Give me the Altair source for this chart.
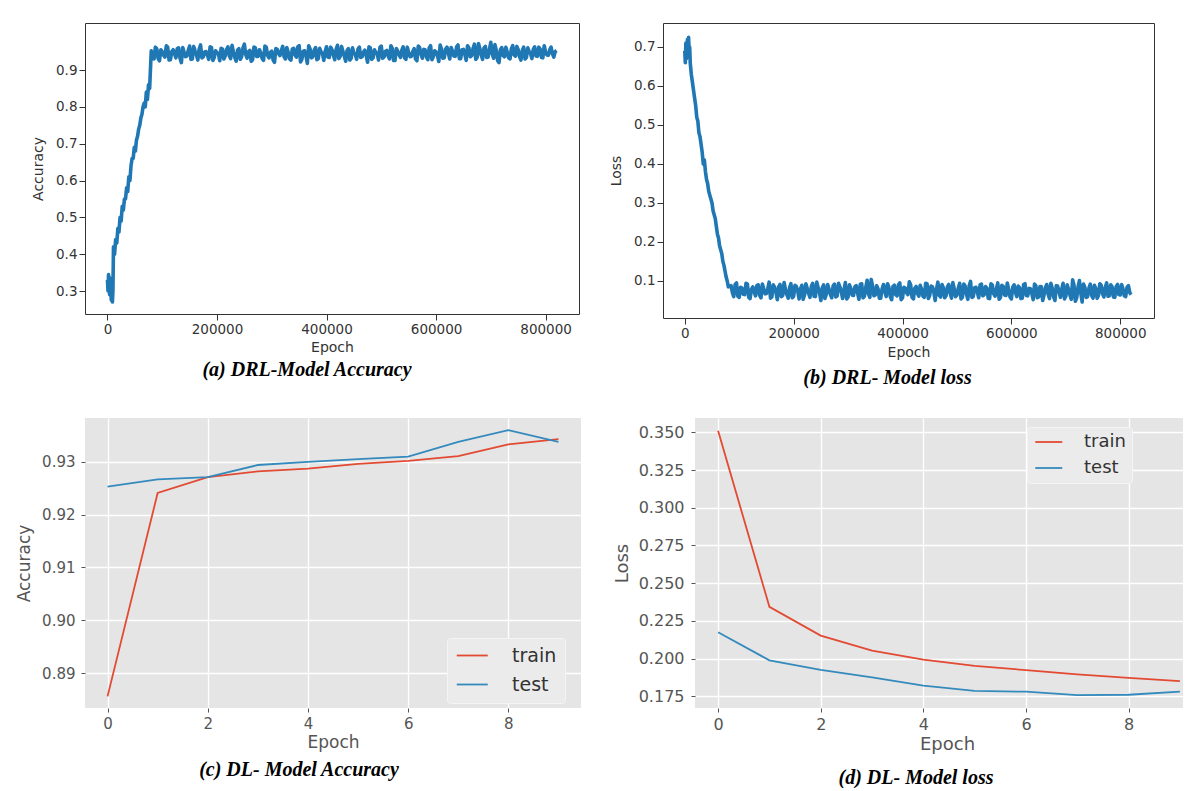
import altair as alt
import pandas as pd

# ---------------- DRL accuracy (panel a) ----------------
acc_early_epochs = [0, 1000, 2000, 3000, 4000, 5000, 6000, 7000, 8000, 9000, 10000,
                    11000, 13000, 15000, 17000, 19000, 21000, 23000, 25000, 27000, 29000,
                    31000, 33000, 35000, 37000, 39000, 41000, 43000, 45000, 47000, 49000,
                    51000, 53000, 55000, 57000, 59000, 61000, 63000, 65000, 67000, 69000,
                    71000, 73000, 75000, 77000]
acc_early_values = [0.33, 0.30, 0.345, 0.31, 0.29, 0.335, 0.30, 0.275, 0.32, 0.27, 0.30,
                    0.42, 0.40, 0.44, 0.43, 0.47, 0.46, 0.50, 0.49, 0.53, 0.52,
                    0.55, 0.55, 0.58, 0.57, 0.61, 0.60, 0.64, 0.66, 0.66, 0.69,
                    0.68, 0.71, 0.72, 0.74, 0.75, 0.77, 0.78, 0.80, 0.81, 0.80,
                    0.84, 0.82, 0.86, 0.85]
acc_plateau_epochs = list(range(80000, 820001, 5000))
acc_plateau_values = [
    0.952, 0.930, 0.958, 0.925, 0.950, 0.935, 0.962, 0.928, 0.955, 0.933,
    0.960, 0.920, 0.948, 0.938, 0.965, 0.930, 0.952, 0.927, 0.968, 0.936,
    0.950, 0.929, 0.961, 0.934, 0.947, 0.925, 0.957, 0.938, 0.963, 0.931,
    0.949, 0.924, 0.958, 0.936, 0.970, 0.932, 0.953, 0.928, 0.960, 0.937,
    0.946, 0.926, 0.962, 0.933, 0.951, 0.921, 0.956, 0.939, 0.964, 0.930,
    0.948, 0.927, 0.959, 0.935, 0.966, 0.929, 0.952, 0.918, 0.957, 0.936,
    0.961, 0.931, 0.949, 0.926, 0.963, 0.934, 0.955, 0.928, 0.967, 0.937,
    0.950, 0.924, 0.958, 0.932, 0.946, 0.929, 0.962, 0.936, 0.954, 0.921,
    0.960, 0.933, 0.948, 0.927, 0.965, 0.935, 0.953, 0.930, 0.959, 0.926,
    0.951, 0.934, 0.963, 0.929, 0.947, 0.937, 0.958, 0.925, 0.961, 0.932,
    0.955, 0.928, 0.966, 0.936, 0.949, 0.923, 0.957, 0.933, 0.962, 0.930,
    0.952, 0.937, 0.968, 0.931, 0.956, 0.926, 0.960, 0.939, 0.970, 0.934,
    0.958, 0.929, 0.964, 0.935, 0.975, 0.932, 0.953, 0.920, 0.961, 0.936,
    0.949, 0.930, 0.966, 0.938, 0.955, 0.927, 0.962, 0.934, 0.950, 0.931,
    0.963, 0.937, 0.957, 0.933, 0.948, 0.940, 0.962, 0.935, 0.953]
acc_mid_epochs = list(range(82500, 817501, 5000))
acc_mid_values = [
    0.938, 0.962, 0.931, 0.955, 0.940, 0.966, 0.927, 0.950, 0.944, 0.958,
    0.932, 0.961, 0.936, 0.953, 0.929, 0.964, 0.941, 0.957, 0.933, 0.949,
    0.940, 0.963, 0.926, 0.952, 0.945, 0.959, 0.930, 0.956, 0.938, 0.967,
    0.935, 0.954, 0.929, 0.960, 0.942, 0.950, 0.924, 0.962, 0.937, 0.955,
    0.931, 0.965, 0.939, 0.948, 0.927, 0.958, 0.944, 0.953, 0.936, 0.961,
    0.930, 0.957, 0.941, 0.963, 0.922, 0.951, 0.938, 0.966, 0.933, 0.954,
    0.928, 0.959, 0.945, 0.950, 0.935, 0.962, 0.940, 0.956, 0.931, 0.964,
    0.937, 0.953, 0.927, 0.960, 0.942, 0.957, 0.934, 0.949, 0.939, 0.963,
    0.929, 0.955, 0.944, 0.961, 0.932, 0.951, 0.938, 0.966, 0.926, 0.958,
    0.941, 0.954, 0.933, 0.962, 0.936, 0.950, 0.930, 0.965, 0.943, 0.956,
    0.935, 0.960, 0.928, 0.952, 0.940, 0.968, 0.932, 0.957, 0.945, 0.961,
    0.938, 0.963, 0.931, 0.955, 0.943, 0.966, 0.936, 0.958, 0.929, 0.972,
    0.940, 0.960, 0.934, 0.957, 0.944, 0.969, 0.925, 0.955, 0.939, 0.962,
    0.933, 0.958, 0.941, 0.964, 0.936, 0.953, 0.930, 0.960, 0.945, 0.956,
    0.938, 0.962, 0.934, 0.966, 0.941, 0.955, 0.944, 0.950]

# ---------------- DRL loss (panel b) ----------------
loss_early_epochs = [0, 1000, 2000, 3000, 4000, 5000, 6000, 7000, 8000, 9000, 10000,
                     12000, 14000, 16000, 18000, 20000, 22000, 24000, 26000, 28000, 30000,
                     32000, 34000, 36000, 38000, 40000, 42000, 44000, 46000, 48000, 50000,
                     52000, 54000, 56000, 58000, 60000, 62000, 64000, 66000, 68000, 70000,
                     72000, 74000, 76000, 78000, 80000]
loss_early_values = [0.69, 0.66, 0.71, 0.67, 0.70, 0.72, 0.68, 0.725, 0.69, 0.70, 0.66,
                     0.63, 0.61, 0.59, 0.57, 0.55, 0.52, 0.51, 0.48, 0.47, 0.45,
                     0.43, 0.40, 0.41, 0.38, 0.36, 0.35, 0.33, 0.32, 0.31, 0.30,
                     0.28, 0.27, 0.26, 0.24, 0.22, 0.21, 0.19, 0.18, 0.17, 0.15,
                     0.14, 0.125, 0.11, 0.10, 0.085]
loss_plateau_epochs = list(range(85000, 820001, 5000))
loss_plateau_values = [
    0.088, 0.060, 0.095, 0.058, 0.082, 0.065, 0.092, 0.055, 0.085, 0.062,
    0.090, 0.057, 0.080, 0.068, 0.097, 0.059, 0.084, 0.052, 0.091, 0.063,
    0.078, 0.056, 0.093, 0.061, 0.086, 0.054, 0.089, 0.064, 0.081, 0.058,
    0.094, 0.060, 0.083, 0.050, 0.090, 0.066, 0.079, 0.057, 0.092, 0.062,
    0.085, 0.055, 0.096, 0.059, 0.081, 0.063, 0.088, 0.053, 0.093, 0.061,
    0.102, 0.058, 0.087, 0.064, 0.080, 0.056, 0.091, 0.060, 0.084, 0.052,
    0.089, 0.062, 0.095, 0.057, 0.082, 0.065, 0.090, 0.054, 0.086, 0.061,
    0.079, 0.058, 0.093, 0.063, 0.085, 0.050, 0.097, 0.059, 0.083, 0.062,
    0.091, 0.056, 0.080, 0.064, 0.094, 0.058, 0.087, 0.053, 0.099, 0.060,
    0.084, 0.057, 0.092, 0.065, 0.081, 0.055, 0.089, 0.061, 0.095, 0.058,
    0.086, 0.063, 0.078, 0.054, 0.090, 0.060, 0.083, 0.056, 0.093, 0.062,
    0.080, 0.052, 0.088, 0.059, 0.085, 0.064, 0.091, 0.055, 0.082, 0.050,
    0.087, 0.058, 0.094, 0.061, 0.079, 0.053, 0.090, 0.057, 0.101, 0.046,
    0.084, 0.060, 0.092, 0.056, 0.081, 0.063, 0.089, 0.059, 0.095, 0.062,
    0.085, 0.058, 0.091, 0.064, 0.080, 0.060, 0.088, 0.065]
loss_mid_epochs = list(range(87500, 817501, 5000))
loss_mid_values = [
    0.070, 0.091, 0.061, 0.084, 0.066, 0.094, 0.058, 0.079, 0.072, 0.088,
    0.063, 0.092, 0.067, 0.081, 0.056, 0.090, 0.071, 0.085, 0.060, 0.096,
    0.065, 0.083, 0.057, 0.089, 0.074, 0.080, 0.053, 0.093, 0.068, 0.086,
    0.061, 0.097, 0.070, 0.082, 0.055, 0.091, 0.066, 0.087, 0.059, 0.094,
    0.072, 0.078, 0.054, 0.090, 0.064, 0.085, 0.069, 0.092, 0.057, 0.083,
    0.067, 0.104, 0.062, 0.088, 0.056, 0.080, 0.073, 0.093, 0.060, 0.086,
    0.065, 0.090, 0.052, 0.084, 0.070, 0.098, 0.058, 0.081, 0.068, 0.089,
    0.061, 0.094, 0.055, 0.087, 0.072, 0.079, 0.063, 0.091, 0.057, 0.085,
    0.069, 0.096, 0.060, 0.082, 0.054, 0.092, 0.066, 0.088, 0.058, 0.083,
    0.071, 0.090, 0.062, 0.086, 0.056, 0.093, 0.067, 0.080, 0.053, 0.089,
    0.064, 0.095, 0.059, 0.084, 0.070, 0.087, 0.055, 0.091, 0.063, 0.081,
    0.068, 0.092, 0.057, 0.086, 0.050, 0.083, 0.066, 0.094, 0.060, 0.088,
    0.072, 0.079, 0.054, 0.090, 0.064, 0.103, 0.048, 0.085, 0.069, 0.092,
    0.058, 0.082, 0.063, 0.089, 0.056, 0.093, 0.067, 0.084, 0.061, 0.090,
    0.059, 0.086, 0.065, 0.091, 0.062, 0.084, 0.070]

# ---------------- DL model (panels c, d) ----------------
dl_epochs = [0, 1, 2, 3, 4, 5, 6, 7, 8, 9]
dl_acc_train = [0.8856, 0.9241, 0.9271, 0.9282, 0.9287, 0.9296, 0.9302, 0.9311, 0.9333, 0.9343]
dl_acc_test = [0.9253, 0.9267, 0.9271, 0.9294, 0.9300, 0.9305, 0.9310, 0.9338, 0.9360, 0.9338]
dl_loss_train = [0.351, 0.2343, 0.2152, 0.2053, 0.1993, 0.1952, 0.1923, 0.1895, 0.1872, 0.1850]
dl_loss_test = [0.2174, 0.1988, 0.1925, 0.1875, 0.1820, 0.1785, 0.1780, 0.1757, 0.1760, 0.1780]
series_names = ["train", "test"]
series_colors = ["#E24A33", "#348ABD"]

FONT = "DejaVu Sans"
CAPFONT = "Liberation Serif"
DRL_BLUE = "#1f77b4"


def caption(text, dx, offset):
    return alt.TitleParams(text=text, orient="bottom", anchor="middle", frame="group",
                           dx=dx, offset=offset, font=CAPFONT, fontSize=20,
                           fontStyle="italic", fontWeight="bold", color="black",
                           baseline="top")


def drl_axis(title, values, fmt, title_pad, label_pad):
    return alt.Axis(title=title, values=values, format=fmt, grid=False, domain=False,
                    tickSize=6, tickColor="#333333", tickWidth=1,
                    labelColor="#333333", labelFont=FONT, labelFontSize=13.5,
                    titleColor="#333333", titleFont=FONT, titleFontSize=14,
                    titleFontWeight="normal", labelPadding=label_pad,
                    titlePadding=title_pad)


# panel (a)
acc_df = pd.DataFrame({"Epoch": acc_early_epochs + acc_plateau_epochs + acc_mid_epochs,
                       "Accuracy": acc_early_values + acc_plateau_values + acc_mid_values})
panel_a = alt.Chart(acc_df).mark_line(color=DRL_BLUE, strokeWidth=3.6, strokeJoin="round",
                                      clip=True).encode(
    x=alt.X("Epoch:Q", scale=alt.Scale(domain=[-41000, 861000], nice=False, zero=False),
            axis=drl_axis("Epoch", [0, 200000, 400000, 600000, 800000], "d", 5, 2)),
    y=alt.Y("Accuracy:Q", scale=alt.Scale(domain=[0.2376, 1.0276], nice=False, zero=False),
            axis=drl_axis("Accuracy", [0.3, 0.4, 0.5, 0.6, 0.7, 0.8, 0.9], ".1f", 10, 2)),
    order="Epoch:Q",
).properties(width=494, height=291,
             view=alt.ViewBackground(fill="white", stroke="#333333", strokeWidth=1),
             title=caption("(a) DRL-Model Accuracy", -25, 5))

# panel (b)
loss_df = pd.DataFrame({"Epoch": loss_early_epochs + loss_plateau_epochs + loss_mid_epochs,
                        "Loss": loss_early_values + loss_plateau_values + loss_mid_values})
panel_b = alt.Chart(loss_df).mark_line(color=DRL_BLUE, strokeWidth=3.6, strokeJoin="round",
                                       clip=True).encode(
    x=alt.X("Epoch:Q", scale=alt.Scale(domain=[-40000, 862000], nice=False, zero=False),
            axis=drl_axis("Epoch", [0, 200000, 400000, 600000, 800000], "d", 6, 2)),
    y=alt.Y("Loss:Q", scale=alt.Scale(domain=[0.0051, 0.7615], nice=False, zero=False),
            axis=drl_axis("Loss", [0.1, 0.2, 0.3, 0.4, 0.5, 0.6, 0.7], ".1f", 10, 2)),
    order="Epoch:Q",
).properties(width=491, height=295,
             view=alt.ViewBackground(fill="white", stroke="#333333", strokeWidth=1),
             title=caption("(b) DRL- Model  loss", -21, 8))


def gg_axis(title, values, fmt, label_size, title_size, label_pad, title_pad, title_x=None):
    kw = dict(title=title, values=values, format=fmt, grid=True, gridColor="white",
              gridWidth=1.3, domain=False, tickSize=4, tickColor="#555555",
              labelColor="#555555", labelFont=FONT, labelFontSize=label_size,
              titleColor="#555555", titleFont=FONT, titleFontSize=title_size,
              titleFontWeight="normal", labelPadding=label_pad, titlePadding=title_pad)
    if title_x is not None:
        kw["titleX"] = title_x
    return alt.Axis(**kw)


def gg_legend(x, y, label_size, unit, label_offset, row_pad, pad):
    # horizontal line symbol from -1 to 3 path units; one unit = sqrt(size) / 2
    return alt.Legend(title=None, orient="none", legendX=x, legendY=y,
                      symbolType="M-1,0L3,0", symbolSize=(2 * unit) ** 2,
                      symbolStrokeWidth=1.8, labelFont=FONT, labelFontSize=label_size,
                      labelColor="#333333", labelOffset=label_offset, rowPadding=row_pad,
                      padding=pad, fillColor="#EBEBEB", strokeColor="#F4F4F4",
                      cornerRadius=3)


# panel (c)
c_df = pd.DataFrame({
    "Epoch": dl_epochs + dl_epochs,
    "Accuracy": dl_acc_train + dl_acc_test,
    "Series": [series_names[0]] * len(dl_epochs) + [series_names[1]] * len(dl_epochs),
})
panel_c = alt.Chart(c_df).mark_line(strokeWidth=1.8, clip=True).encode(
    x=alt.X("Epoch:Q", scale=alt.Scale(domain=[-0.45, 9.45], nice=False, zero=False),
            axis=gg_axis("Epoch", [0, 2, 4, 6, 8], "d", 15, 17, 4, 3)),
    y=alt.Y("Accuracy:Q", scale=alt.Scale(domain=[0.8834, 0.9383], nice=False, zero=False),
            axis=gg_axis("Accuracy", [0.89, 0.90, 0.91, 0.92, 0.93], ".2f", 15, 17, 6, 8)),
    color=alt.Color("Series:N", scale=alt.Scale(domain=series_names, range=series_colors),
                    legend=gg_legend(362, 220, 19, 7.75, 38, 9, 8)),
).properties(width=496, height=290,
             view=alt.ViewBackground(fill="#E5E5E5", stroke=None),
             title=caption("(c) DL- Model  Accuracy", -34, 10))

# panel (d)
d_df = pd.DataFrame({
    "Epoch": dl_epochs + dl_epochs,
    "Loss": dl_loss_train + dl_loss_test,
    "Series": [series_names[0]] * len(dl_epochs) + [series_names[1]] * len(dl_epochs),
})
panel_d = alt.Chart(d_df).mark_line(strokeWidth=1.8, clip=True).encode(
    x=alt.X("Epoch:Q", scale=alt.Scale(domain=[-0.45, 9.06], nice=False, zero=False),
            axis=gg_axis("Epoch", [0, 2, 4, 6, 8], "d", 16, 18, 4, 3, title_x=252)),
    y=alt.Y("Loss:Q", scale=alt.Scale(domain=[0.1672, 0.3595], nice=False, zero=False),
            axis=gg_axis("Loss", [0.175, 0.2, 0.225, 0.25, 0.275, 0.3, 0.325, 0.35], ".3f",
                         16, 18, 7, 7)),
    color=alt.Color("Series:N", scale=alt.Scale(domain=series_names, range=series_colors),
                    legend=gg_legend(332, 9, 18, 6.75, 33, 8, 6)),
).properties(width=488, height=290,
             view=alt.ViewBackground(fill="#E5E5E5", stroke=None),
             title=caption("(d) DL- Model  loss", -23, 15))

row1 = alt.hconcat(panel_a, panel_b, spacing=29).resolve_scale(color="independent")
row2 = alt.hconcat(panel_c, panel_d, spacing=32).resolve_scale(color="independent")

chart = alt.vconcat(row1, row2, spacing=30).resolve_scale(color="independent").properties(
    padding={"left": 7, "top": 14, "right": 0, "bottom": 0},
    background="white",
)

chart.save("out.html", embed_options={"renderer": "svg", "actions": False})
